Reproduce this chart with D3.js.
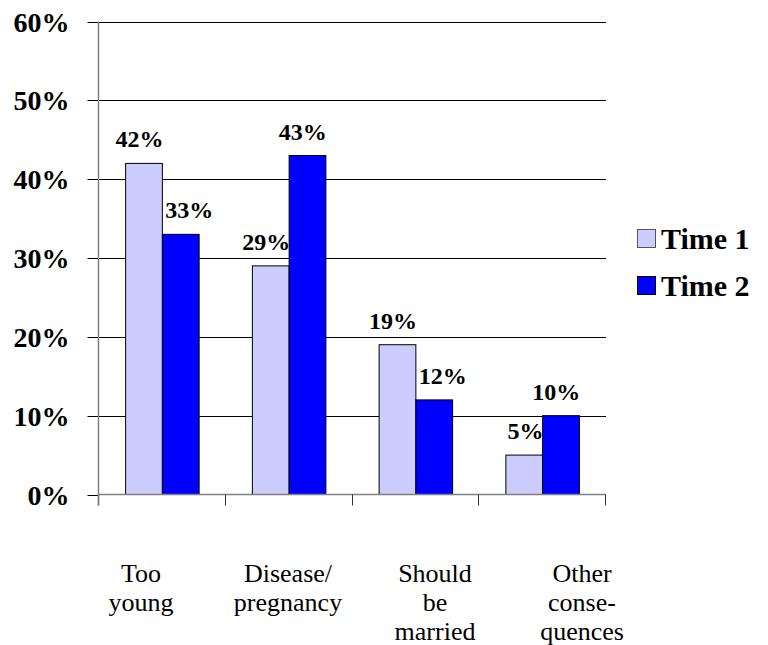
<!DOCTYPE html>
<html>
<head>
<meta charset="utf-8">
<script src="https://cdn.jsdelivr.net/npm/d3@7/dist/d3.min.js"></script>
</head>
<body style="margin:0">
<svg id="chart" width="768" height="645" font-family="Liberation Serif"></svg>
<script>
// Reasons given, share of respondents at two survey times
const categories = ["Too young", "Disease/pregnancy", "Should be married", "Other consequences"];
const categoryLines = [["Too", "young"], ["Disease/", "pregnancy"], ["Should", "be", "married"], ["Other", "conse-", "quences"]];
const seriesNames = ["Time 1", "Time 2"];
const time1 = [42, 29, 19, 5];
const time2 = [33, 43, 12, 10];
const yTicks = [0, 10, 20, 30, 40, 50, 60];

const colors = { "Time 1": "#ccccff", "Time 2": "#0000ff" };
const seriesValues = { "Time 1": time1, "Time 2": time2 };

const svg = d3.select("#chart");
const plot = { left: 99, right: 606, top: 21.5, bottom: 494.5 };

// Every text node gets the serif face both as attribute and inline style
function serifText(sel) {
  return sel.attr("font-family", "Liberation Serif").style("font-family", d => "\"Liberation Serif\"");
}

const x = d3.scaleBand()
  .domain(categories)
  .range([plot.left, plot.right])
  .paddingInner(0.42)
  .paddingOuter(0.21);

const xInner = d3.scaleBand()
  .domain(seriesNames)
  .range([0, x.bandwidth()]);

const y = d3.scaleLinear()
  .domain([0, 60])
  .range([plot.bottom, plot.top]);

// Horizontal gridlines
svg.append("g")
  .selectAll("line")
  .data(yTicks.filter(d => d > 0))
  .join("line")
  .attr("x1", plot.left)
  .attr("x2", plot.right)
  .attr("y1", d => Math.round(y(d)) + 0.5)
  .attr("y2", d => Math.round(y(d)) + 0.5)
  .attr("stroke", "#000")
  .attr("stroke-width", 1);

// Bars
const rows = categories.map((c, i) => ({
  category: c,
  values: seriesNames.map(s => ({ series: s, value: seriesValues[s][i], category: c, idx: i }))
}));

const groups = svg.append("g")
  .selectAll("g")
  .data(rows)
  .join("g")
  .attr("transform", d => `translate(${x(d.category)},0)`);

groups.selectAll("rect")
  .data(d => d.values)
  .join("rect")
  .attr("x", d => xInner(d.series))
  .attr("y", d => y(d.value))
  .attr("width", xInner.bandwidth())
  .attr("height", d => y(0) - y(d.value))
  .attr("fill", d => colors[d.series])
  .attr("stroke", "#000")
  .attr("stroke-width", 1);

// Value labels: right-aligned on the bar, or left-aligned when the bar to the left is taller
groups.selectAll("text.value")
  .data(d => d.values)
  .join("text")
  .attr("class", "value")
  .each(function (d) {
    const left = xInner(d.series);
    const right = left + xInner.bandwidth();
    const prevTaller = d.series === "Time 2" && time1[d.idx] > d.value;
    d3.select(this)
      .attr("x", prevTaller ? left + 3 : right + 1)
      .attr("text-anchor", prevTaller ? "start" : "end");
  })
  .attr("y", d => y(d.value) - 16)
  .call(serifText)
  .attr("font-size", 24)
  .attr("font-weight", "bold")
  .attr("fill", "#000")
  .text(d => d.value + "%");

// Y axis
const yAxis = svg.append("g")
  .attr("transform", `translate(${plot.left - 0.5},0)`)
  .call(d3.axisLeft(y).tickValues(yTicks).tickSize(11).tickSizeOuter(0).tickPadding(18).tickFormat(d => d + "%"));
yAxis.attr("font-family", "Liberation Serif").attr("font-size", 27);
yAxis.select(".domain").remove();
yAxis.selectAll(".tick line").attr("stroke", "#000").attr("stroke-width", 1);
yAxis.selectAll(".tick").attr("transform", d => `translate(0,${Math.round(y(d)) + 0.5})`);
yAxis.selectAll(".tick text")
  .call(serifText)
  .attr("font-size", 28)
  .attr("font-weight", "bold")
  .attr("fill", "#000")
  .attr("dy", "0.34em");
yAxis.append("line")
  .attr("x1", 0).attr("x2", 0)
  .attr("y1", y(60)).attr("y2", plot.bottom + 11)
  .attr("stroke", "#808080")
  .attr("stroke-width", 1.5);

// X axis line and boundary ticks
const xAxis = svg.append("g");
xAxis.append("line")
  .attr("x1", plot.left).attr("x2", plot.right)
  .attr("y1", plot.bottom).attr("y2", plot.bottom)
  .attr("stroke", "#808080")
  .attr("stroke-width", 1.5);
xAxis.selectAll("line.tick")
  .data(d3.range(categories.length + 1))
  .join("line")
  .attr("class", "tick")
  .attr("x1", i => Math.round(plot.left + i * x.step()) - 0.5)
  .attr("x2", i => Math.round(plot.left + i * x.step()) - 0.5)
  .attr("y1", plot.bottom)
  .attr("y2", plot.bottom + 11)
  .attr("stroke", i => i === 0 ? "#808080" : "#333")
  .attr("stroke-width", i => i === 0 ? 1.5 : 1);

// Category labels
const labelX = d3.scalePoint().domain(categories).range([141, 582]);
svg.append("g")
  .selectAll("text")
  .data(categories)
  .join("text")
  .attr("x", d => labelX(d))
  .attr("y", 582)
  .attr("text-anchor", "middle")
  .call(serifText)
  .attr("font-size", 26)
  .attr("fill", "#000")
  .each(function (d, i) {
    d3.select(this).selectAll("tspan")
      .data(categoryLines[i])
      .join("tspan")
      .attr("x", labelX(d))
      .attr("dy", (t, j) => j === 0 ? 0 : 29)
      .text(t => t);
  });

// Legend
const legend = svg.append("g")
  .selectAll("g")
  .data(seriesNames)
  .join("g")
  .attr("transform", (d, i) => `translate(637,${229 + i * 47})`);
legend.append("rect")
  .attr("x", 0.5).attr("y", 0.5)
  .attr("width", 18).attr("height", 18)
  .attr("fill", d => colors[d])
  .attr("stroke", d => d === "Time 1" ? "#555" : "#000")
  .attr("stroke-width", 1);
legend.append("text")
  .attr("x", 24)
  .attr("y", 20)
  .call(serifText)
  .attr("font-size", 30)
  .attr("font-weight", "bold")
  .attr("fill", "#000")
  .text(d => d);
</script>
</body>
</html>
